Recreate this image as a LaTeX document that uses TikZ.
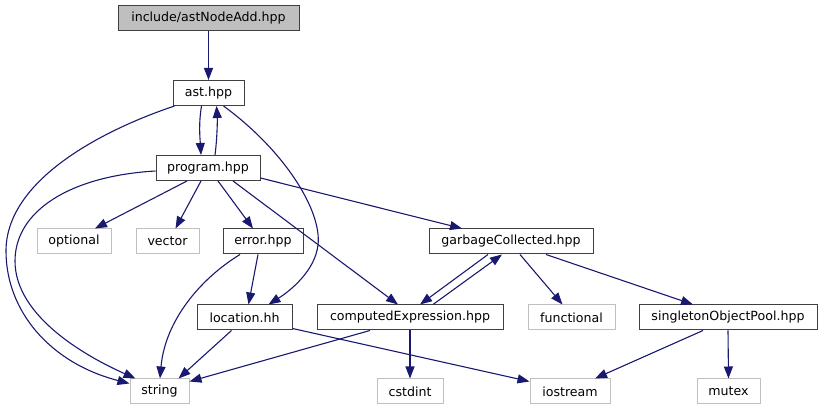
\documentclass[tikz,border=0pt]{standalone}
\usepackage{fontspec}
\setmainfont{DejaVu Sans}
\usetikzlibrary{arrows.meta}
\definecolor{edgec}{HTML}{191970}
\definecolor{extc}{HTML}{BFBFBF}
\definecolor{intc}{HTML}{404040}
\tikzset{
  box/.style={draw=intc, line width=1pt, minimum height=25pt, inner sep=0pt, font=\fontsize{12.6}{15}\selectfont, text=black},
  ext/.style={box, draw=extc},
  topbox/.style={box, fill=extc},
  edge/.style={draw=edgec, line width=1.1pt, -{Triangle[length=12pt,width=9pt]}}
}
\begin{document}
\begin{tikzpicture}[x=1pt,y=1pt]
\useasboundingbox (0,0) rectangle (824,411);
% nodes
\node[topbox, minimum width=181pt] (top) at (208.5,392.5) {include/astNodeAdd.hpp};
\node[box, minimum width=71pt] (ast) at (208.5,318) {ast.hpp};
\node[box, minimum width=104pt] (prog) at (208,243) {program.hpp};
\node[ext, minimum width=74pt] (opt) at (74,169.5) {optional};
\node[ext, minimum width=63pt] (vec) at (167.5,169.5) {vector};
\node[box, minimum width=80pt] (err) at (263,169.5) {error.hpp};
\node[box, minimum width=164pt] (gc) at (511,169.5) {garbageCollected.hpp};
\node[box, minimum width=95pt] (loc) at (244.5,93.5) {location.hh};
\node[box, minimum width=186pt] (ce) at (410,93.5) {computedExpression.hpp};
\node[ext, minimum width=87pt] (func) at (571.5,93.5) {functional};
\node[box, minimum width=178pt] (sop) at (728,93.5) {singletonObjectPool.hpp};
\node[ext, minimum width=59pt] (str) at (159.5,19.5) {string};
\node[ext, minimum width=66pt] (cst) at (410,19.5) {cstdint};
\node[ext, minimum width=80pt] (ios) at (570,19.5) {iostream};
\node[ext, minimum width=63pt] (mut) at (728.5,19.5) {mutex};
% edges
\draw[edge] (top.south) -- (ast.north);
\draw[edge] ([xshift=-7pt]ast.south) .. controls +(-3,-18) and +(-1,17) .. ([xshift=-7pt]prog.north);
\draw[edge] ([xshift=7pt]prog.north) .. controls +(2,15) and +(1,-15) .. ([xshift=8pt]ast.south);
\draw[edge] ([xshift=-34pt]ast.south) .. controls (100,280) and (6,230) .. (6,160) .. controls (6,100) and (50,48) .. ([yshift=-5pt]str.north west);
\draw[edge] ([yshift=-3pt]prog.west) .. controls (70,235) and (15,200) .. (15,150) .. controls (15,95) and (85,55) .. ([xshift=6pt]str.north west);
\draw[edge] ([xshift=15pt]ast.south) .. controls (285,260) and (322,200) .. (318,166) .. controls (315,140) and (290,120) .. ([xshift=-24pt]loc.north east);
\draw[edge] ([xshift=-23pt]err.south) .. controls (200,132) and (165,90) .. ([xshift=0.5pt]str.north);
\draw[edge] ([xshift=-5pt]err.south) -- ([xshift=4pt]loc.north);
\draw[edge] ([xshift=-13pt]loc.south) -- ([xshift=-11pt]str.north east);
\draw[edge] ([xshift=-40pt]ce.south) -- ([yshift=-3pt]str.north east);
\draw[edge] ([yshift=2pt]loc.south east) -- ([yshift=-3pt]ios.north west);
\draw[edge] (ce.south) -- (cst.north);
\draw[edge] ([xshift=-21pt]prog.south) -- ([xshift=21pt]opt.north);
\draw[edge] ([xshift=-7pt]prog.south) -- ([xshift=8pt]vec.north);
\draw[edge] ([xshift=10pt]prog.south) -- ([xshift=-10pt]err.north);
\draw[edge] ([xshift=25pt]prog.south) -- ([xshift=-12pt]ce.north);
\draw[edge] ([yshift=-10pt]prog.east) -- ([xshift=-49pt]gc.north);
\draw[edge] ([xshift=-23pt]gc.south) -- ([xshift=10pt]ce.north);
\draw[edge] ([xshift=23pt]ce.north) -- ([xshift=-9pt]gc.south);
\draw[edge] ([xshift=9pt]gc.south) -- ([xshift=-9pt]func.north);
\draw[edge] ([xshift=35pt]gc.south) -- ([xshift=-35pt]sop.north);
\draw[edge] ([xshift=-25pt]sop.south) -- ([xshift=25pt]ios.north);
\draw[edge] (sop.south) -- (mut.north);
\end{tikzpicture}
\end{document}
